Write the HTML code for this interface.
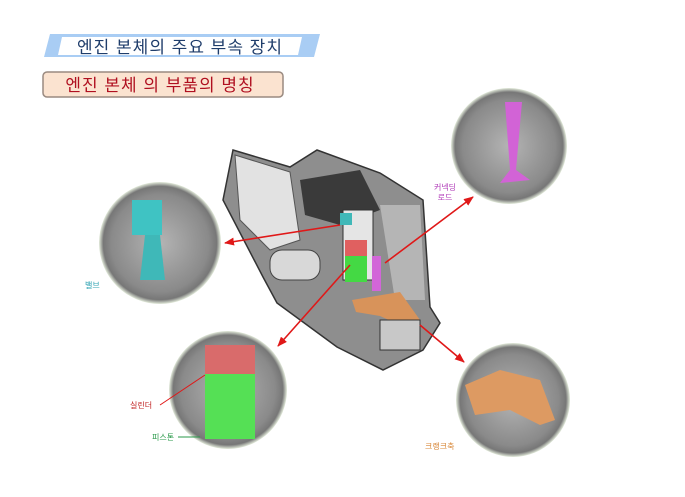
<!DOCTYPE html>
<html><head><meta charset="utf-8"><style>
body{margin:0;background:#fff;width:685px;height:497px;overflow:hidden;font-family:"Liberation Sans","Noto Sans CJK KR",sans-serif}
</style></head><body>
<svg width="685" height="497" viewBox="0 0 685 497" xmlns="http://www.w3.org/2000/svg" style="position:absolute;left:0;top:0">
<defs>
<radialGradient id="cg" cx="50%" cy="50%" r="50%"><stop offset="0" stop-color="#b4b4b4"/><stop offset="0.8" stop-color="#8a8a8a"/><stop offset="0.93" stop-color="#777"/><stop offset="1" stop-color="#e4ecdc"/></radialGradient>
<marker id="ah" markerWidth="10" markerHeight="8" refX="9" refY="4" orient="auto" markerUnits="userSpaceOnUse"><path d="M0,0 L10,4 L0,8 Z" fill="#e01818"/></marker>
</defs>
<polygon points="50,34 320,34 314,57 44,57" fill="#a9cdf4"/>
<polygon points="62,37 302,37 298,55 58,55" fill="#ffffff"/>
<text x="180" y="53" font-size="17" fill="#1f3d6b" text-anchor="middle" letter-spacing="1">엔진 본체의 주요 부속 장치</text>
<rect x="43" y="72" width="240" height="25" rx="4" fill="#fbe3d0" stroke="#9a8a80" stroke-width="1.5"/>
<text x="160" y="91" font-size="17" fill="#b01020" text-anchor="middle" letter-spacing="1">엔진 본체 의  부품의 명칭</text>
<!-- engine -->
<polygon points="233,150 290,167 317,150 380,173 423,200 430,307 440,323 423,350 383,370 337,347 277,303 263,277 223,200" fill="#8e8e8e" stroke="#333" stroke-width="1.5"/>
<polygon points="235,155 290,172 300,240 270,250 240,220" fill="#e2e2e2" stroke="#555"/>
<polygon points="300,180 360,170 380,210 340,225 305,215" fill="#3a3a3a"/>
<polygon points="380,205 420,205 425,300 395,300" fill="#b5b5b5"/>
<rect x="270" y="250" width="50" height="30" rx="12" fill="#d8d8d8" stroke="#444"/>
<rect x="343" y="210" width="30" height="70" fill="#e5e5e5" stroke="#333"/>
<rect x="345" y="240" width="22" height="18" fill="#e06060"/>
<rect x="345" y="256" width="22" height="26" fill="#44d944"/>
<rect x="372" y="256" width="9" height="35" fill="#d266d8"/>
<rect x="340" y="213" width="12" height="12" fill="#40b8b8"/>
<polygon points="352,300 400,292 420,320 412,330 380,316 356,312" fill="#d8935a"/>
<rect x="380" y="320" width="40" height="30" fill="#c8c8c8" stroke="#333"/>
<!-- circles -->
<circle cx="160" cy="243" r="61" fill="url(#cg)"/>
<rect x="132" y="200" width="30" height="35" fill="#3fc3c3"/>
<polygon points="145,235 160,235 165,280 140,280" fill="#3fb8b8"/>
<circle cx="228" cy="390" r="59" fill="url(#cg)"/>
<rect x="205" y="345" width="50" height="30" fill="#d96b6b"/>
<rect x="205" y="374" width="50" height="65" fill="#55e055"/>
<circle cx="509" cy="146" r="58" fill="url(#cg)"/>
<polygon points="505,102 522,102 516,170 530,180 500,183 510,170" fill="#d263d6"/>
<circle cx="513" cy="400" r="57" fill="url(#cg)"/>
<polygon points="465,385 500,370 540,380 555,420 540,425 510,410 475,415" fill="#dd9a62"/>
<g stroke="#e01818" stroke-width="1.6" fill="none">
<line x1="340" y1="225" x2="225" y2="243" marker-end="url(#ah)"/>
<line x1="350" y1="265" x2="278" y2="346" marker-end="url(#ah)"/>
<line x1="385" y1="263" x2="473" y2="197" marker-end="url(#ah)"/>
<line x1="420" y1="325" x2="464" y2="362" marker-end="url(#ah)"/>
<line x1="205" y1="375" x2="160" y2="405" stroke-width="1"/>
</g>
<line x1="200" y1="437" x2="178" y2="437" stroke="#2a9a4a" stroke-width="1"/>
<g font-size="8">
<text x="445" y="190" fill="#b03ab8" text-anchor="middle">커넥딩</text>
<text x="445" y="200" fill="#b03ab8" text-anchor="middle">로드</text>
<text x="85" y="288" fill="#2aa0b0">밸브</text>
<text x="130" y="408" fill="#c02020">실린더</text>
<text x="152" y="440" fill="#2a9a4a">피스톤</text>
<text x="425" y="449" fill="#d8883a">크랭크축</text>
</g>
</svg>
</body></html>
